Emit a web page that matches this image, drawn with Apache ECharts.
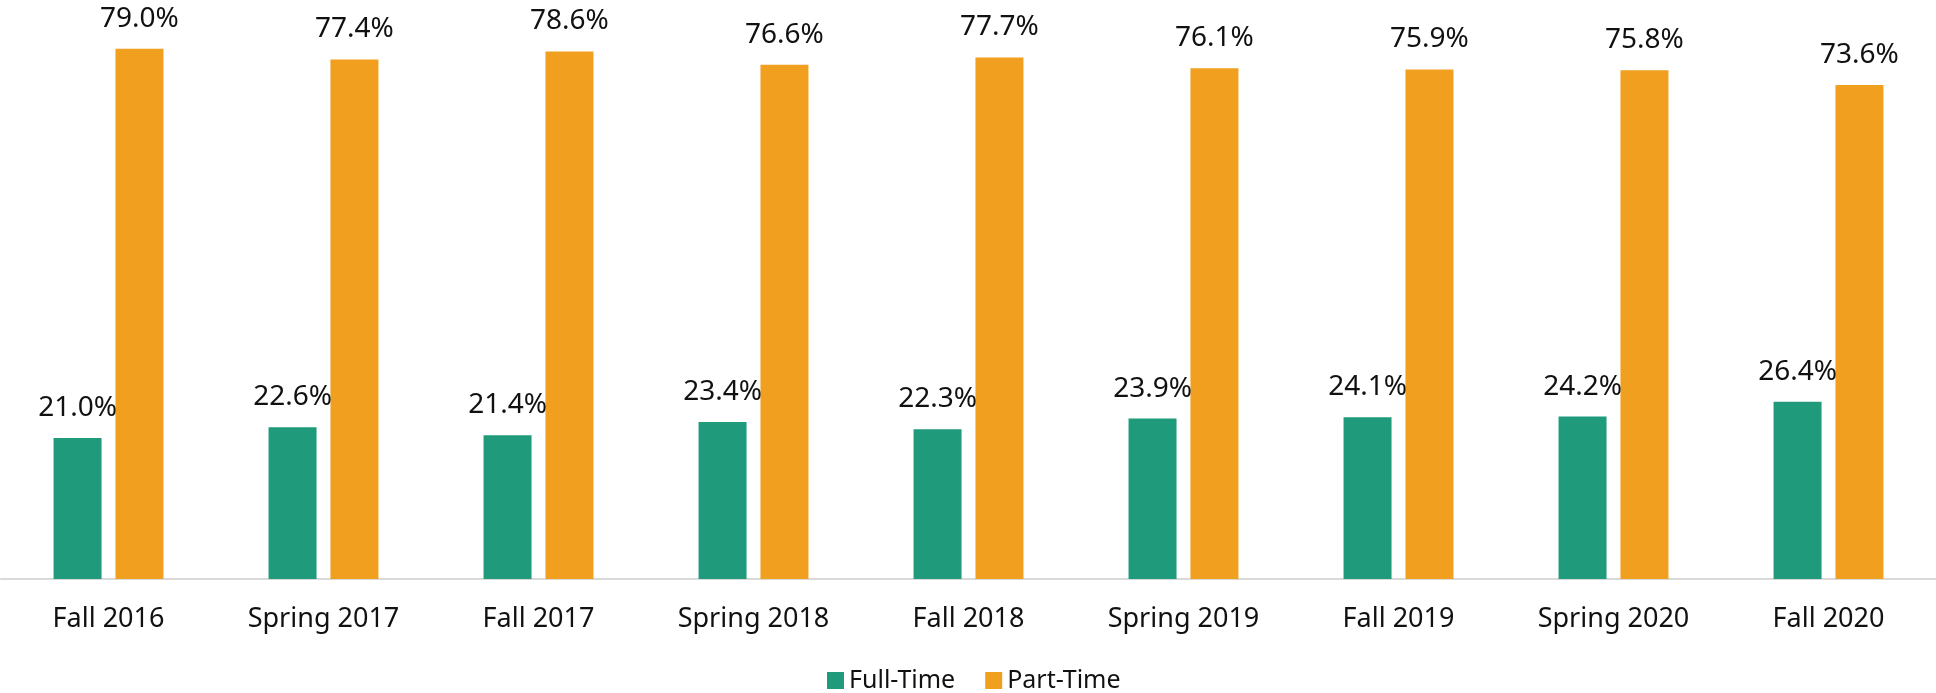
<!DOCTYPE html>
<html>
<head>
<meta charset="utf-8">
<script src="https://cdn.jsdelivr.net/npm/echarts@6/dist/echarts.min.js"></script>
<style>
  html, body { margin: 0; padding: 0; background: #fff; }
  #chart { width: 1936px; height: 693px; }
</style>
</head>
<body>
<div id="chart"></div>
<script>
var terms = ["Fall 2016", "Spring 2017", "Fall 2017", "Spring 2018", "Fall 2018",
             "Spring 2019", "Fall 2019", "Spring 2020", "Fall 2020"];
var fullTime = [21.0, 22.6, 21.4, 23.4, 22.3, 23.9, 24.1, 24.2, 26.4];
var partTime = [79.0, 77.4, 78.6, 76.6, 77.7, 76.1, 75.9, 75.8, 73.6];

var chart = echarts.init(document.getElementById("chart"));
var font = "'Noto Sans', 'Open Sans', sans-serif";

function pct(p) {
  return p.value.toFixed(1) + "%";
}

chart.setOption({
  animation: false,
  textStyle: { fontFamily: font },
  grid: { left: 1, right: -3, top: 42, bottom: 114 },
  legend: {
    left: 822,
    top: 663,
    itemWidth: 17,
    itemHeight: 17,
    itemGap: 30,
    icon: "rect",
    textStyle: { fontSize: 25, color: "#111", fontFamily: font },
    data: ["Full-Time", "Part-Time"]
  },
  xAxis: {
    type: "category",
    data: terms,
    axisLine: { lineStyle: { color: "#d9d9d9", width: 2 } },
    axisTick: { show: false },
    axisLabel: { fontSize: 27, color: "#111", margin: 27, fontFamily: font }
  },
  yAxis: {
    type: "value",
    min: 0,
    max: 80,
    show: false,
    splitLine: { show: false }
  },
  series: [
    {
      name: "Full-Time",
      type: "bar",
      data: fullTime,
      barWidth: 48,
      barGap: "29%",
      itemStyle: { color: "#1f9b7b" },
      label: {
        show: true,
        position: "top",
        distance: 16,
        fontSize: 28,
        color: "#111",
        fontFamily: font,
        formatter: pct
      }
    },
    {
      name: "Part-Time",
      type: "bar",
      data: partTime,
      barWidth: 48,
      itemStyle: { color: "#f19f1e" },
      label: {
        show: true,
        position: "top",
        distance: 16,
        fontSize: 28,
        color: "#111",
        fontFamily: font,
        formatter: pct
      }
    }
  ]
});
</script>
</body>
</html>
